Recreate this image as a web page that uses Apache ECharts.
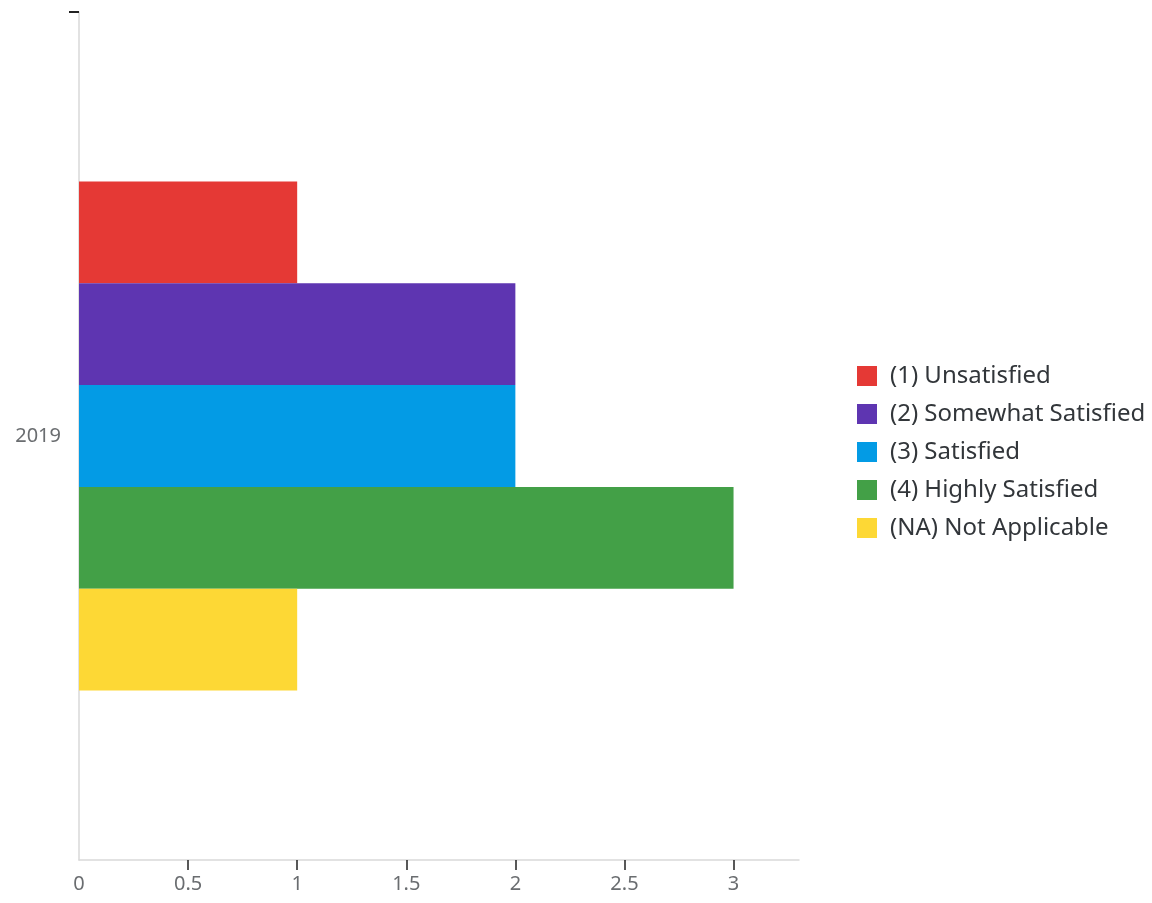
<!DOCTYPE html>
<html>
<head>
<meta charset="utf-8">
<title>Satisfaction 2019</title>
<script src="https://cdn.jsdelivr.net/npm/echarts@6/dist/echarts.min.js"></script>
<style>
  html, body { margin: 0; padding: 0; background: #ffffff; }
  #chart { width: 1152px; height: 903px; }
</style>
</head>
<body>
<div id="chart"></div>
<script>
// Survey responses for a single year, one bar per rating level
const categories = ['2019'];
const seriesNames = [
  '(1) Unsatisfied',
  '(2) Somewhat Satisfied',
  '(3) Satisfied',
  '(4) Highly Satisfied',
  '(NA) Not Applicable'
];
const seriesValues = [
  [1],
  [2],
  [2],
  [3],
  [1]
];
const seriesColors = ['#e53935', '#5e35b1', '#039be5', '#43a047', '#fdd835'];
const xTickValues = [0, 0.5, 1, 1.5, 2, 2.5, 3];
const xMax = 3.3;

const fontFamily = '"Noto Sans", "Open Sans", sans-serif';

const chart = echarts.init(document.getElementById('chart'));

const series = seriesNames.map((name, i) => ({
  name: name,
  type: 'bar',
  data: seriesValues[i],
  barGap: '0%',
  barCategoryGap: '40%',
  itemStyle: { color: seriesColors[i] },
  emphasis: { disabled: true }
}));

chart.setOption({
  animation: false,
  textStyle: { fontFamily: fontFamily },
  grid: { left: 79, right: 353, top: 12, bottom: 43, containLabel: false },
  legend: {
    orient: 'vertical',
    left: 857,
    top: 364,
    padding: 0,
    itemWidth: 20,
    itemHeight: 20,
    itemGap: 14,
    icon: 'rect',
    data: seriesNames,
    textStyle: { fontSize: 24, color: '#32363a', fontFamily: fontFamily, padding: [0, 0, 0, 8] }
  },
  xAxis: {
    type: 'value',
    min: 0,
    max: xMax,
    interval: 0.5,
    splitLine: { show: false },
    axisLine: { show: true, lineStyle: { color: '#d9d9d9', width: 1.5 } },
    axisTick: {
      show: true,
      length: 10,
      customValues: xTickValues.slice(1),
      lineStyle: { color: '#222', width: 1.5 }
    },
    axisLabel: {
      customValues: xTickValues,
      formatter: v => String(v),
      color: '#6a6d70',
      fontSize: 20,
      margin: 14
    }
  },
  yAxis: [
    {
      type: 'category',
      data: categories,
      axisLine: { show: true, lineStyle: { color: '#d9d9d9', width: 1.5 } },
      axisTick: { show: false },
      axisLabel: { color: '#6a6d70', fontSize: 20, margin: 18 }
    },
    {
      // top boundary tick of the category band
      type: 'value',
      position: 'left',
      min: 0,
      max: 1,
      interval: 1,
      axisLine: { show: false },
      splitLine: { show: false },
      axisLabel: { show: false },
      axisTick: { show: true, length: 10, customValues: [1], lineStyle: { color: '#222', width: 2 } }
    }
  ],
  series: series
});
</script>
</body>
</html>
